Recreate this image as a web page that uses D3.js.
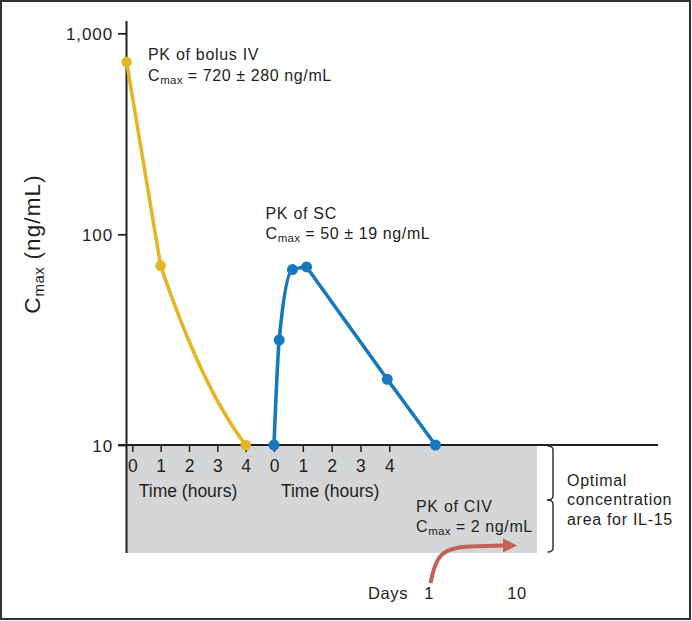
<!DOCTYPE html>
<html>
<head>
<meta charset="utf-8">
<script src="https://cdn.jsdelivr.net/npm/d3@7"></script>
<style>
  html, body { margin: 0; padding: 0; background: #fff; }
  svg { display: block; }
  text { font-family: "Liberation Sans", Arial, sans-serif; fill: #231f20; }
</style>
</head>
<body>
<svg id="chart" width="692" height="621"></svg>
<script>
// ---- data ----
const yTickValues = [10, 100, 1000];
const hourTicks = [0, 1, 2, 3, 4];
const ivHours = [-0.2, 1, 4];
const ivValues = [720, 71, 10];
const scHours = [0, 0.18, 0.64, 1.13, 3.93, 5.6];
const scValues = [10, 31.5, 68, 70, 20.5, 10];
const dayTicks = [1, 10];
const civArrowDays = [1, 10];

const ivColor = "#e6b525";
const scColor = "#1878be";
const civColor = "#c1615a";
const ink = "#231f20";

const svg = d3.select("#chart");

// frame
svg.append("rect").attr("x", 1).attr("y", 1).attr("width", 689).attr("height", 618)
  .attr("fill", "none").attr("stroke", "#333").attr("stroke-width", 2);

// scales
const y = d3.scaleLog().domain([10, 100, 1000]).range([445, 234.3, 33.3]);
const xIV = d3.scaleLinear().domain([0, 4]).range([132.3, 245.7]);
const xSC = d3.scaleLinear().domain([0, 4]).range([274, 389.3]);
const xDay = d3.scaleLog().domain([1, 10]).range([429, 517]);

// optimal concentration area (gray box)
svg.append("rect").attr("x", 126).attr("y", y(10)).attr("width", 537 - 126).attr("height", 553 - y(10))
  .attr("fill", "#d5d6d8");

// y axis
const yAxis = d3.axisLeft(y).tickValues(yTickValues).tickFormat(d3.format(",")).tickSize(8).tickPadding(5);
const gy = svg.append("g").attr("transform", "translate(126,0)").call(yAxis);
gy.select(".domain").remove();
gy.selectAll(".tick line").attr("stroke", ink).attr("stroke-width", 1.8);
gy.selectAll(".tick text").attr("font-size", 17).attr("letter-spacing", 0.9)
  .attr("font-family", "Liberation Sans, Arial, sans-serif").attr("fill", ink).attr("dy", "0.36em");
svg.append("line").attr("x1", 126.5).attr("x2", 126.5).attr("y1", 21).attr("y2", 553)
  .attr("stroke", ink).attr("stroke-width", 2);

// horizontal baseline
svg.append("line").attr("x1", 118).attr("x2", 658).attr("y1", y(10)).attr("y2", y(10))
  .attr("stroke", ink).attr("stroke-width", 2);

// x axes (hours)
function hourAxis(scale) {
  const g = svg.append("g").attr("transform", `translate(0,${y(10)})`)
    .call(d3.axisBottom(scale).tickValues(hourTicks).tickSize(7).tickFormat(d3.format("d")));
  g.select(".domain").remove();
  g.selectAll(".tick line").attr("stroke", ink).attr("stroke-width", 1.5);
  g.selectAll(".tick text").attr("y", 26.5).attr("dy", 0).attr("font-size", 17.5)
    .attr("font-family", "Liberation Sans, Arial, sans-serif").attr("fill", ink);
  return g;
}
hourAxis(xIV);
hourAxis(xSC);
svg.append("text").attr("x", xIV(2) - 1).attr("y", 496.5).attr("text-anchor", "middle")
  .attr("font-size", 17.5).text("Time (hours)");
svg.append("text").attr("x", xSC(2) - 1.5).attr("y", 496.5).attr("text-anchor", "middle")
  .attr("font-size", 17.5).text("Time (hours)");

// ---- lines ----
const ivPts = ivHours.map((h, i) => [xIV(h), y(ivValues[i])]);
const scPts = scHours.map((h, i) => [xSC(h), y(scValues[i])]);

// IV: straight fall to the 1 h point, then a decaying curve to 4 h
const ivPath = d3.path();
ivPath.moveTo(ivPts[0][0], ivPts[0][1]);
ivPath.lineTo(ivPts[1][0], ivPts[1][1]);
{
  const [x1, y1] = ivPts[1], [x2, y2] = ivPts[2];
  const dx = x2 - x1, chord = (y2 - y1) / dx;
  const mStart = chord * 1.4, mEnd = chord * 0.62;
  ivPath.bezierCurveTo(x1 + dx / 3, y1 + mStart * dx / 3, x2 - dx / 3, y2 - mEnd * dx / 3, x2, y2);
}
svg.append("path").attr("d", ivPath.toString()).attr("fill", "none").attr("stroke", ivColor)
  .attr("stroke-width", 3.6).attr("stroke-linejoin", "round");

// SC: smooth rise to the peak, then straight decline
const rise = d3.line().curve(d3.curveMonotoneX);
const fall = d3.line();
svg.append("path").attr("d", rise(scPts.slice(0, 4))).attr("fill", "none").attr("stroke", scColor)
  .attr("stroke-width", 3.6).attr("stroke-linejoin", "round");
svg.append("path").attr("d", fall(scPts.slice(3))).attr("fill", "none").attr("stroke", scColor)
  .attr("stroke-width", 3.6).attr("stroke-linejoin", "round");

svg.selectAll(".ivdot").data(ivPts).join("circle").attr("class", "ivdot")
  .attr("cx", d => d[0]).attr("cy", d => d[1]).attr("r", 5.3).attr("fill", ivColor);
svg.selectAll(".scdot").data(scPts).join("circle").attr("class", "scdot")
  .attr("cx", d => d[0]).attr("cy", d => d[1]).attr("r", 5.5).attr("fill", scColor);

// annotation helpers
function cmaxLabel(x, yb, rest) {
  const t = svg.append("text").attr("x", x).attr("y", yb).attr("font-size", 16).attr("letter-spacing", 0.6);
  t.append("tspan").text("C");
  t.append("tspan").attr("font-size", 11.5).attr("dy", 3).attr("letter-spacing", 0.3).text("max");
  t.append("tspan").attr("dy", -3).text(rest);
}
function plain(x, yb, s) {
  svg.append("text").attr("x", x).attr("y", yb).attr("font-size", 16).attr("letter-spacing", 0.7).text(s);
}
plain(148, 59.5, "PK of bolus IV");
cmaxLabel(148, 80.5, " = 720 \u00b1 280 ng/mL");
plain(265.5, 218.5, "PK of SC");
cmaxLabel(265.5, 238.5, " = 50 \u00b1 19 ng/mL");
plain(416, 511.5, "PK of CIV");
cmaxLabel(416, 531.5, " = 2 ng/mL");

plain(567, 485.5, "Optimal");
plain(567, 505, "concentration");
plain(567, 524.5, "area for IL-15");

// brace
svg.append("path")
  .attr("d", "M547.5,446 Q553,446 553,450 L553,496 Q553,500 547,500 Q553,500 553,504 L553,548 Q553,552 547.5,552")
  .attr("fill", "none").attr("stroke", "#333").attr("stroke-width", 1.5);

// y label
const yl = svg.append("text").attr("transform", "translate(39.5,244) rotate(-90)")
  .attr("text-anchor", "middle").attr("font-size", 22.5).attr("letter-spacing", 1.1);
yl.append("tspan").text("C");
yl.append("tspan").attr("font-size", 15).attr("dy", 4.5).attr("letter-spacing", 0.4).text("max");
yl.append("tspan").attr("dy", -4.5).text(" (ng/mL)");

// days axis + CIV arrow
svg.append("text").attr("x", 408).attr("y", 598.5).attr("text-anchor", "end").attr("font-size", 16.5)
  .attr("letter-spacing", 0.6).text("Days");
svg.selectAll(".daytick").data(dayTicks).join("text").attr("class", "daytick")
  .attr("x", d => xDay(d)).attr("y", 598.5).attr("text-anchor", "middle").attr("font-size", 16.5)
  .attr("letter-spacing", 0.5).text(d => d);

const a0 = xDay(civArrowDays[0]) + 1.5, a1 = xDay(civArrowDays[1]);
svg.append("path")
  .attr("d", `M${a0},583 C${a0 + 5},557 ${a0 + 10},547.5 ${a0 + 40},546.5 L${a1 - 12},545.5`)
  .attr("fill", "none").attr("stroke", civColor).attr("stroke-width", 4).attr("stroke-linecap", "butt");
svg.append("path")
  .attr("d", `M${a1},545.5 L${a1 - 14},538.5 L${a1 - 14},552.5 Z`).attr("fill", civColor);
</script>
</body>
</html>
